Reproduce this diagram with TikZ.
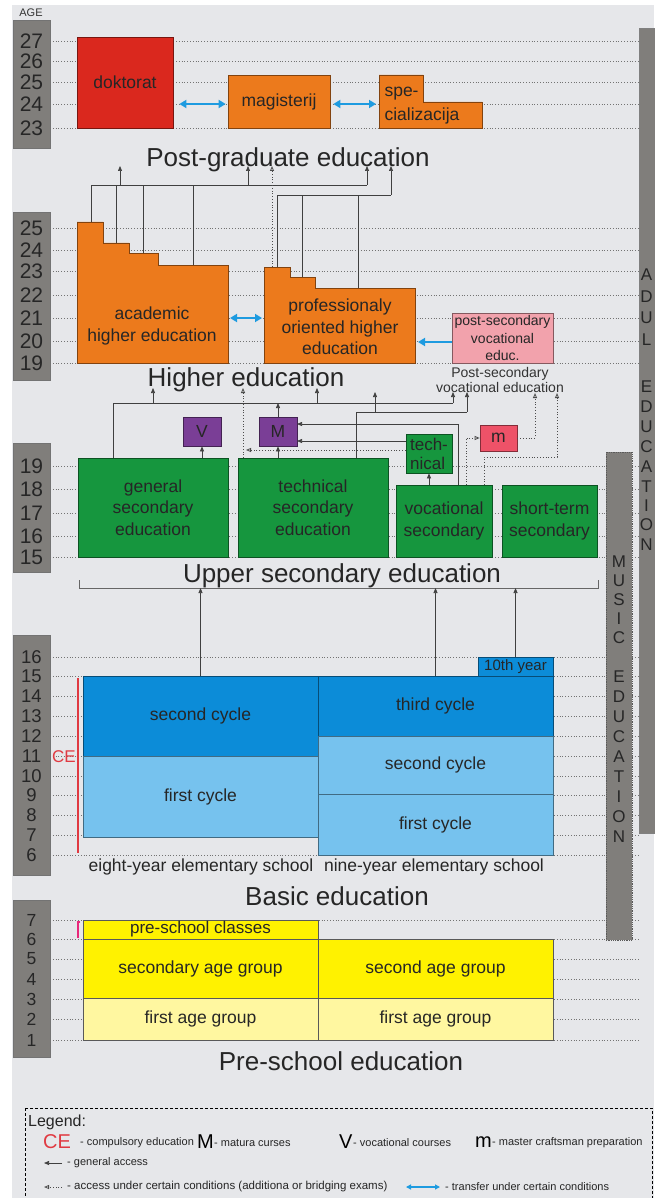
\documentclass[tikz,border=0pt]{standalone}
\usepackage{fontspec}
\setmainfont{Liberation Sans}
\usetikzlibrary{arrows.meta}

\definecolor{bgc}{RGB}{230,231,234}
\definecolor{agec}{RGB}{128,126,123}
\definecolor{redd}{RGB}{218,40,30}
\definecolor{oran}{RGB}{236,122,28}
\definecolor{pinkb}{RGB}{242,162,172}
\definecolor{mred}{RGB}{238,82,104}
\definecolor{grn}{RGB}{22,150,62}
\definecolor{purp}{RGB}{122,62,150}
\definecolor{dblue}{RGB}{12,140,216}
\definecolor{lblue}{RGB}{118,194,238}
\definecolor{yel}{RGB}{255,242,0}
\definecolor{lyel}{RGB}{255,247,160}
\definecolor{arrblue}{RGB}{30,155,224}
\definecolor{cered}{RGB}{224,58,66}

\tikzset{
  ageline/.style={dotted, draw=black!55, line width=0.8pt},
  agebar/.style={fill=agec, draw=black!55, line width=0.6pt},
  agenum/.style={font=\fontsize{21}{21}\selectfont, text=black!85, inner sep=0pt},
  lbl/.style={font=\fontsize{17.5}{21.5}\selectfont, align=center, text=black!85},
  box/.style={lbl, fill=#1, draw=#1!55!black, line width=0.7pt, inner sep=0pt},
  stepbox/.style={fill=oran, draw=oran!55!black, line width=0.7pt},
  sect/.style={font=\fontsize{26}{30}\selectfont, text=black!85, anchor=base},
  ln/.style={draw=black!75, line width=0.7pt},
  acc/.style={ln, -{Triangle[length=5pt,width=4pt]}},
  cond/.style={draw=black!70, dotted, line width=0.8pt, -{Triangle[open,length=5pt,width=4pt]}},
  trf/.style={draw=arrblue, line width=2.2pt, {Triangle[length=7pt,width=8pt]}-{Triangle[length=7pt,width=8pt]}},
  small/.style={font=\fontsize{11}{13}\selectfont, text=black!85, anchor=west, inner sep=1pt},
  big/.style={font=\fontsize{20}{20}\selectfont, anchor=west, inner sep=1pt},
}

\begin{document}
\begin{tikzpicture}[x=1pt,y=-1pt]
    \useasboundingbox (0,0) rectangle (654,1198);
    \fill[white] (0,0) rectangle (654,1198);
    \fill[bgc] (12,5) rectangle (654,1198);

    % Age columns and dotted age lines
    \node[font=\fontsize{11}{11}\selectfont, text=black!80] (age) at (31,13) {AGE};
    \draw[agebar] (13,20) rectangle (50,148);
    \foreach \a/\y in {27/41,26/61,25/82,24/104,23/128}{
        \node[agenum] (t\a) at (31.5,\y) {\a};
        \draw[ageline] (50,\y) -- (640,\y);
    }
    \draw[agebar] (13,212) rectangle (50,380);
    \foreach \a/\y in {25/228,24/250,23/271,22/295,21/318,20/341,19/363}{
        \node[agenum] (h\a) at (31.5,\y) {\a};
        \draw[ageline] (50,\y) -- (640,\y);
    }
    \draw[agebar] (13,443) rectangle (50,572);
    \foreach \a/\y in {19/466,18/489,17/513,16/536,15/557}{
        \node[agenum] (u\a) at (31.5,\y) {\a};
        \draw[ageline] (50,\y) -- (640,\y);
    }
    \draw[agebar] (13,635) rectangle (50,875);
    \foreach \a/\y in {16/657,15/676,14/696,13/716,12/736,11/756,10/776,9/795,8/815,7/835,6/855}{
        \node[agenum, font=\fontsize{18.5}{18.5}\selectfont] (b\a) at (31.5,\y) {\a};
        \draw[ageline] (50,\y) -- (640,\y);
    }
    \draw[agebar] (13,900) rectangle (50,1057);
    \foreach \a/\y in {7/920,6/939,5/959,4/979,3/999,2/1019,1/1040}{
        \node[agenum, font=\fontsize{17.5}{17.5}\selectfont] (p\a) at (31.5,\y) {\a};
        \draw[ageline] (50,\y) -- (640,\y);
    }

    % Adult and music education bars
    \draw[fill=agec, draw=black!50] (639,28) rectangle (662,833);
    \foreach \l/\y in {A/275,D/297,U/318,L/340,E/387,D/407,U/427,C/447,A/467,T/487,I/506,O/525,N/545}
        \node[font=\fontsize{17}{17}\selectfont, text=black!85, inner sep=0pt] (ad\y) at (646.5,\y) {\l};
    \draw[fill=agec, draw=black!65, densely dotted, line width=0.8pt] (606,452) rectangle (632,940);
    \foreach \l/\y in {M/562,U/581,S/600,I/619,C/638,E/677,D/697,U/717,C/737,A/757,T/777,I/797,O/817,N/837}
        \node[font=\fontsize{17}{17}\selectfont, text=black!85] (mu\y) at (619,\y) {\l};

    % Post-graduate education
    \node[box=redd, minimum width=96, minimum height=91] (dok) at (125,82.5) {doktorat};
    \node[box=oran, minimum width=102, minimum height=53] (mag) at (279,101.5) {magisterij};
    \draw[stepbox] (379,75) -- (423,75) -- (423,102) -- (482,102) -- (482,128) -- (379,128) -- cycle;
    \node[lbl, anchor=west] (spe1) at (381,94) {spe-};
    \node[lbl, anchor=west] (spe2) at (381,116) {cializacija};
    \coordinate (r1) at (0,104);
    \coordinate (spw) at (379,104);
    \draw[trf, shorten <=6pt, shorten >=2pt] (dok.east |- r1) -- (mag.west |- r1);
    \draw[trf, shorten <=3pt, shorten >=3pt] (mag.east |- r1) -- (spw);
    \node[sect] (pgt) at (288,167) {Post-graduate education};

    % Higher education
    \draw[stepbox] (77,363) -- (77,222) -- (103,222) -- (103,243) -- (129,243) -- (129,253)
        -- (158,253) -- (158,265) -- (228,265) -- (228,363) -- cycle;
    \node[lbl] (aca) at (152,326) {academic\\higher education};
    \draw[stepbox] (264,363) -- (264,267) -- (290,267) -- (290,277) -- (315,277) -- (315,288)
        -- (415,288) -- (415,363) -- cycle;
    \node[lbl] (pro) at (340,327) {professionaly\\oriented higher\\education};
    \node[box=pinkb, minimum width=101, minimum height=50, font=\fontsize{14}{17.5}\selectfont] (psv) at (502.5,338) {post-secondary\\vocational\\educ.};
    \node[font=\fontsize{14}{15}\selectfont, align=center, text=black!80] (psvl) at (500,380) {Post-secondary\\vocational education};
    \coordinate (acE) at (228,318);
    \coordinate (prW) at (264,318);
    \coordinate (prE) at (415,342);
    \draw[trf, shorten <=2pt, shorten >=2pt] (acE) -- (prW);
    \draw[draw=arrblue, line width=2.2pt, -{Triangle[length=7pt,width=8pt]}, shorten >=3pt] (psv.west |- prE) -- (prE);
    \node[sect] (het) at (246,386) {Higher education};

    % Access to post-graduate education
    \coordinate (ac1) at (91,222);
    \coordinate (ac2) at (116,243);
    \coordinate (ac3) at (143,253);
    \coordinate (ac4) at (193,265);
    \coordinate (jA) at (367,185);
    \coordinate (uA1) at (120,185);
    \coordinate (uA2) at (248,185);
    \coordinate (pr1) at (277,267);
    \coordinate (pr2) at (302,277);
    \coordinate (pr3) at (358,288);
    \coordinate (jB) at (391,195);
    \coordinate (pd) at (272,267);
    \coordinate (tipP) at (0,166);
    \draw[ln] (ac1) |- (jA);
    \foreach \p in {ac2,ac3,ac4} \draw[ln] (\p) -- (\p |- jA);
    \foreach \p in {uA1,uA2,jA} \draw[acc] (\p) -- (\p |- tipP);
    \draw[ln] (pr1) |- (jB);
    \foreach \p in {pr2,pr3} \draw[ln] (\p) -- (\p |- jB);
    \draw[acc] (jB) -- (jB |- tipP);
    \draw[cond] (pd) -- (pd |- tipP);

    % Upper secondary education
    \node[box=grn, minimum width=150, minimum height=99] (gen) at (153,507.5) {general\\secondary\\education};
    \node[box=grn, minimum width=150, minimum height=99] (tec) at (313,507.5) {technical\\secondary\\education};
    \node[box=grn, minimum width=96, minimum height=72] (voc) at (444,521) {vocational\\secondary};
    \node[box=grn, minimum width=95, minimum height=72] (sho) at (549.5,521) {short-term\\secondary};
    \node[box=purp, minimum width=38, minimum height=29] (V) at (202,431.5) {V};
    \node[box=purp, minimum width=38, minimum height=29] (M) at (278,431.5) {M};
    \node[box=grn, minimum width=46, minimum height=39, align=left, font=\fontsize{17}{19}\selectfont] (tn) at (429,453.5) {tech-\\nical};
    \node[box=mred, minimum width=37, minimum height=26] (mm) at (498.5,438) {m};
    \node[sect] (ust) at (342,582) {Upper secondary education};
    \draw[draw=black!60, line width=0.8pt] (79,580) |- (598,588) -- (598,580);

    % Access to higher education
    \coordinate (tipH) at (0,388);
    \coordinate (tipV) at (0,392);
    \coordinate (g0) at (113,458);
    \coordinate (jC) at (453,403);
    \coordinate (uC1) at (153,403);
    \coordinate (uC2) at (317,403);
    \coordinate (t0) at (356,458);
    \coordinate (jD) at (467,412);
    \coordinate (uD1) at (375,412);
    \draw[ln] (g0) |- (jC);
    \draw[acc] (jC) -- (jC |- tipV);
    \foreach \p in {uC1,uC2} \draw[acc] (\p) -- (\p |- tipH);
    \draw[acc] (M.north) -- (M.north |- jC);
    \draw[ln] (t0) |- (jD);
    \draw[acc] (jD) -- (jD |- tipV);
    \draw[acc] (uD1) -- (uD1 |- tipV);
    \draw[acc] (gen.north -| V) -- (V.south);
    \draw[acc] (tec.north -| M) -- (M.south);
    \coordinate (v0) at (458,485);
    \coordinate (mE1) at (297,424);
    \coordinate (mE2) at (297,441);
    \draw[acc] (v0) |- (mE1);
    \draw[acc] (tn.west |- mE2) -- (mE2);
    \draw[acc] (voc.north -| tn) -- (tn.south);
    \coordinate (dq) at (246,450);
    \coordinate (d0) at (243,458);
    \coordinate (d1) at (243,388);
    \draw[cond] (tn.west |- dq) -- (dq);
    \draw[cond] (d0) -- (d1);
    \coordinate (m0) at (466,485);
    \coordinate (m1) at (535,393);
    \draw[cond] (m0) |- (mm.west);
    \draw[cond] (mm.east) -| (m1);
    \coordinate (s0) at (484,485);
    \coordinate (s1) at (557,457);
    \coordinate (s2) at (557,393);
    \draw[cond] (s0) |- (s1) -- (s2);

    % Basic education
    \node[box=dblue, minimum width=75, minimum height=19, font=\fontsize{15}{15}\selectfont] (ten) at (515.5,666.5) {10th year};
    \node[box=dblue, minimum width=235, minimum height=80] (e2) at (200.5,716) {second cycle};
    \node[box=lblue, minimum width=235, minimum height=81] (e1) at (200.5,796.5) {first cycle};
    \node[box=dblue, minimum width=235, minimum height=60] (n3) at (435.5,706) {third cycle};
    \node[box=lblue, minimum width=235, minimum height=58] (n2) at (435.5,765) {second cycle};
    \node[box=lblue, minimum width=235, minimum height=61] (n1) at (435.5,824.5) {first cycle};
    \coordinate (br) at (0,588);
    \foreach \p in {e2,n3,ten} \draw[acc] (\p.north) -- (\p.north |- br);
    \draw[draw=cered, line width=1.5pt] (78,678) -- (78,853);
    \node[text=cered, font=\fontsize{17}{17}\selectfont] (ce) at (64,757) {CE};
    \node[lbl] (l8) at (201,867) {eight-year elementary school};
    \node[lbl] (l9) at (434,867) {nine-year elementary school};
    \node[sect] (bas) at (337,905) {Basic education};

    % Pre-school education
    \node[box=yel, draw=black!65, minimum width=235, minimum height=19, font=\fontsize{17}{17}\selectfont] (psc) at (200.5,929.5) {pre-school classes};
    \node[box=yel, draw=black!65, minimum width=235, minimum height=59] (sag) at (200.5,968.5) {secondary age group};
    \node[box=yel, draw=black!65, minimum width=235, minimum height=59] (nag) at (435.5,968.5) {second age group};
    \node[box=lyel, draw=black!65, minimum width=235, minimum height=42] (f1) at (200.5,1019) {first age group};
    \node[box=lyel, draw=black!65, minimum width=235, minimum height=42] (f2) at (435.5,1019) {first age group};
    \draw[draw=cered!70!magenta, line width=1.2pt] (80,922) -- (78,922) -- (78,938);
    \node[sect] (pre) at (341,1070) {Pre-school education};

    % Legend
    \draw[line width=1pt, dash pattern=on 3pt off 2pt] (25,1108) rectangle (652,1215);
    \node[font=\fontsize{16}{16}\selectfont, anchor=west, text=black!85, inner sep=1pt] (leg) at (27,1122) {Legend:};
    \node[big, text=cered] (lce) at (42,1142) {CE};
    \node[small] (lce2) at (79,1143) {- compulsory education};
    \node[big] (lM) at (196,1142) {M};
    \node[small] (lM2) at (213,1143) {- matura curses};
    \node[big] (lV) at (338,1142) {V};
    \node[small] (lV2) at (352,1143) {- vocational courses};
    \node[big] (lm) at (474,1142) {m};
    \node[small] (lm2) at (491,1143) {- master craftsman preparation};
    \coordinate (g1) at (62,1163);
    \coordinate (g2) at (44,1163);
    \draw[acc] (g1) -- (g2);
    \node[small] (lga) at (66,1163) {- general access};
    \coordinate (c1) at (62,1187);
    \coordinate (c2) at (44,1187);
    \draw[cond] (c1) -- (c2);
    \node[small, font=\fontsize{11.5}{13}\selectfont] (lcd) at (66,1187) {- access under certain conditions (additiona or bridging exams)};
    \coordinate (w1) at (406,1187);
    \coordinate (w2) at (440,1187);
    \draw[draw=arrblue, line width=1.2pt, {Triangle[length=5pt,width=5pt]}-{Triangle[length=5pt,width=5pt]}] (w1) -- (w2);
    \node[small] (ltr) at (444,1187) {- transfer under certain conditions};
\end{tikzpicture}
\end{document}
